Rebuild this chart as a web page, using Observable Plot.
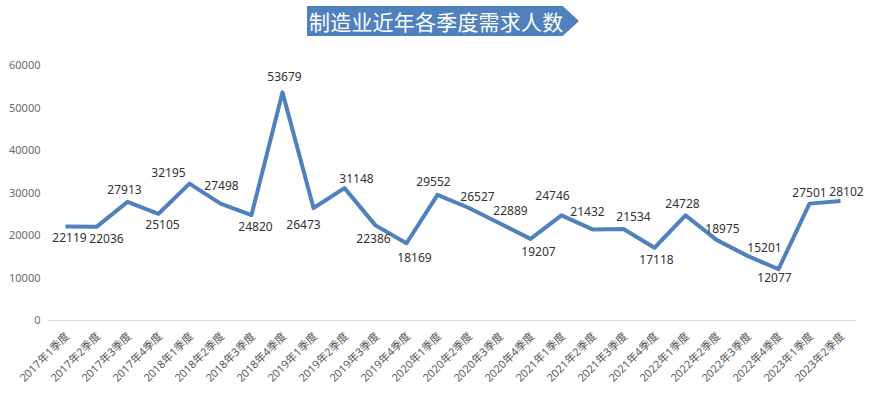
<!DOCTYPE html>
<html><head><meta charset="utf-8">
<script src="https://cdn.jsdelivr.net/npm/d3@7"></script>
<script src="https://cdn.jsdelivr.net/npm/@observablehq/plot@0.6"></script>
<style>
body{margin:0;background:#fff;}
#wrap{position:relative;width:869px;height:394px;font-family:"Noto Sans CJK SC","Noto Sans",sans-serif;}
#title{position:absolute;left:307px;top:6px;width:272px;height:30px;background:#4F81BD;color:#fff;
clip-path:polygon(0 0,94% 0,100% 50%,94% 100%,0 100%);font-size:21px;line-height:30px;padding-left:2px;letter-spacing:0.2px;white-space:nowrap;box-sizing:border-box;}
#chart{position:absolute;left:0;top:0;}
</style></head>
<body><div id="wrap"><div id="title">制造业近年各季度需求人数</div><div id="chart"></div></div>
<script>
const quarters = ["2017年1季度","2017年2季度","2017年3季度","2017年4季度","2018年1季度","2018年2季度","2018年3季度","2018年4季度","2019年1季度","2019年2季度","2019年3季度","2019年4季度","2020年1季度","2020年2季度","2020年3季度","2020年4季度","2021年1季度","2021年2季度","2021年3季度","2021年4季度","2022年1季度","2022年2季度","2022年3季度","2022年4季度","2023年1季度","2023年2季度"];
const demand = [22119,22036,27913,25105,32195,27498,24820,53679,26473,31148,22386,18169,29552,26527,22889,19207,24746,21432,21534,17118,24728,18975,15201,12077,27501,28102];
const yTicks = [0,10000,20000,30000,40000,50000,60000];

const data = quarters.map((q,i)=>({q, v: demand[i]}));
// label offsets (dx, dy) mimicking the reference's label placement
const labelOffsets = [[4,12],[10,12],[-3,-12],[4,11],[-21,-11],[1,-17],[4,12],[2,-15],[-10,17],[12,-9],[-2,14],[8,15],[-4,-13],[9,-11],[11,-12],[8,13],[-9,-19],[-5,-17],[10,-12],[2,12],[-3,-11],[6,-11],[17,-8],[-4,9],[0,-10],[6,-9]];

const font = '"Noto Sans","Noto Sans CJK SC",sans-serif';
const chart = Plot.plot({
  width: 869, height: 394,
  marginTop: 65, marginBottom: 74, marginLeft: 48, marginRight: 13,
  style: {fontFamily: font, background: "transparent"},
  x: {type: "point", domain: quarters, padding: 0.5, label: null},
  y: {domain: [0, 60000], label: null},
  marks: [
    Plot.ruleY([0], {stroke: "#D9D9D9", strokeWidth: 1.2}),
    Plot.axisY({ticks: yTicks, tickSize: 0, tickPadding: 8, fontSize: 11, color: "#6b6b6b", tickFormat: d => String(d), label: null}),
    Plot.axisX({tickSize: 0, tickRotate: -45, tickPadding: 14, fontSize: 11, color: "#595959", label: null, dx: 2}),
    Plot.line(data, {x: "q", y: "v", stroke: "#4F81BD", strokeWidth: 4, strokeLinejoin: "round", strokeLinecap: "butt"}),
    ...labelOffsets.map((o,i)=>Plot.text([data[i]], {x: "q", y: "v", text: d => String(d.v), dx: o[0], dy: o[1], fontSize: 12, fill: "#333"}))
  ]
});
document.getElementById("chart").appendChild(chart);
</script></body></html>
